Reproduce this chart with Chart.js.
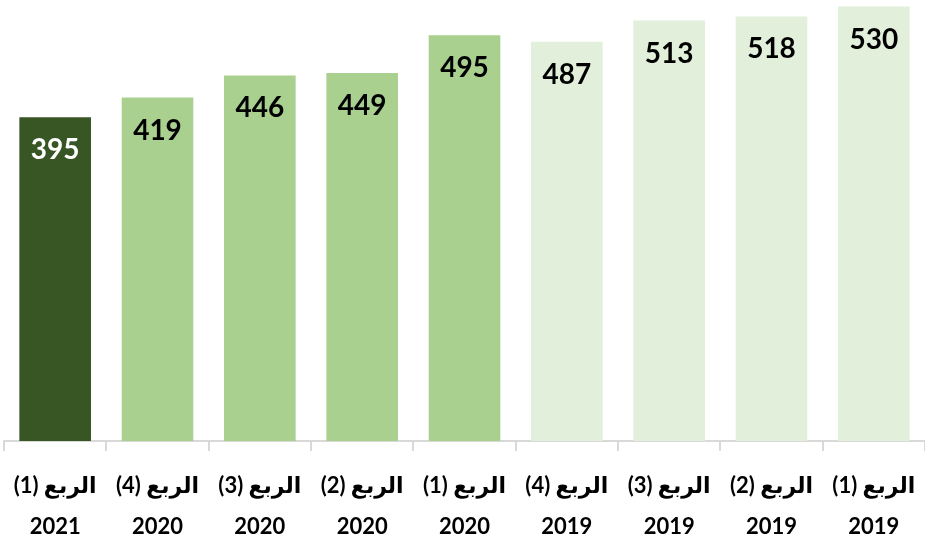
<!DOCTYPE html>
<html>
<head>
<meta charset="utf-8">
<script src="https://cdn.jsdelivr.net/npm/chart.js@4"></script>
<style>
    html, body { margin: 0; padding: 0; background: #fff; }
    #wrap { width: 925px; height: 546px; }
</style>
</head>
<body>
<div id="wrap"><canvas id="quarterChart"></canvas></div>
<script>
// ===== DATA =====
const quarters = ['الربع (1)', 'الربع (4)', 'الربع (3)', 'الربع (2)', 'الربع (1)', 'الربع (4)', 'الربع (3)', 'الربع (2)', 'الربع (1)'];
const years = ['2021', '2020', '2020', '2020', '2020', '2019', '2019', '2019', '2019'];
const values = [395, 419, 446, 449, 495, 487, 513, 518, 530];
const barColors = ['#375623', '#a9d08e', '#a9d08e', '#a9d08e', '#a9d08e', '#e2efda', '#e2efda', '#e2efda', '#e2efda'];
const labelColors = ['#ffffff', '#000000', '#000000', '#000000', '#000000', '#000000', '#000000', '#000000', '#000000'];

// RLM keeps the parentheses on the right-to-left side
const labels = quarters.map((q, i) => [q + '\u200F', years[i]]);

// ===== VALUE LABELS INSIDE BARS =====
const valueLabels = {
    id: 'valueLabels',
    afterDatasetsDraw(chart) {
        const ctx = chart.ctx;
        const meta = chart.getDatasetMeta(0);
        ctx.save();
        ctx.font = 'bold 28px Lato, "DejaVu Sans", sans-serif';
        ctx.textAlign = 'center';
        ctx.textBaseline = 'middle';
        meta.data.forEach((bar, i) => {
            ctx.fillStyle = labelColors[i];
            ctx.fillText(values[i], bar.x, bar.y + 33);
        });
        ctx.restore();
    }
};

const ctx = document.getElementById('quarterChart');
new Chart(ctx, {
    type: 'bar',
    data: {
        labels: labels,
        datasets: [{
            data: values,
            backgroundColor: barColors,
            categoryPercentage: 1,
            barPercentage: 0.7
        }]
    },
    options: {
        responsive: true,
        maintainAspectRatio: false,
        animation: false,
        layout: { padding: { left: 4, right: 0, top: 0, bottom: 0 } },
        plugins: {
            legend: { display: false },
            tooltip: { enabled: false }
        },
        scales: {
            x: {
                offset: true,
                afterFit(scale) {
                    scale.height = 105;
                    scale.paddingLeft = 0;
                    scale.paddingRight = 0;
                },
                border: { color: '#d9d9d9', width: 2 },
                grid: {
                    offset: true,
                    drawOnChartArea: false,
                    color: '#d9d9d9',
                    lineWidth: 2,
                    tickLength: 10
                },
                ticks: {
                    color: '#000',
                    padding: 15,
                    maxRotation: 0,
                    autoSkip: false,
                    font: { family: 'Lato, "DejaVu Sans", sans-serif', size: 22, weight: 'bold', lineHeight: 1.85 }
                }
            },
            y: {
                display: false,
                min: 0,
                max: 538
            }
        }
    },
    plugins: [valueLabels]
});
</script>
</body>
</html>
